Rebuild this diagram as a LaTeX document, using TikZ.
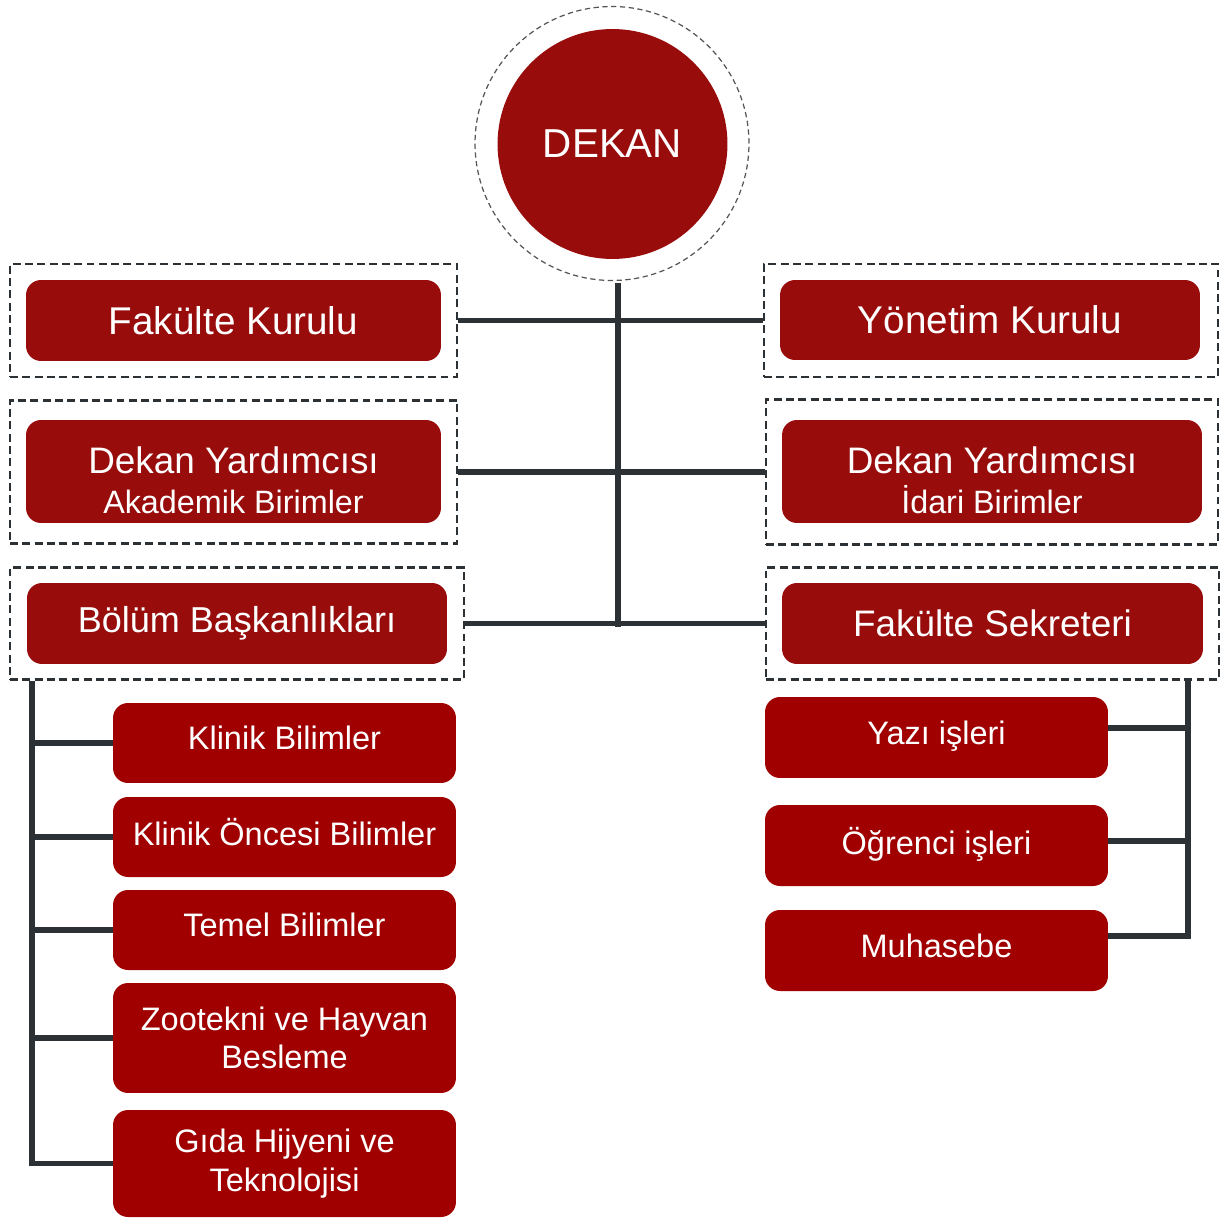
\documentclass[tikz,border=0pt]{standalone}
\usepackage{fontspec}
\setmainfont{Liberation Sans}
\definecolor{topred}{HTML}{980C0C}
\definecolor{subred}{HTML}{A00000}
\definecolor{linec}{HTML}{2B3135}
\definecolor{ringc}{HTML}{555555}
\begin{document}
\begin{tikzpicture}[x=0.02cm,y=-0.02cm,
  redbox/.style={fill=topred, rounded corners=0.3cm, text=white, align=center, inner sep=0pt},
  subbox/.style={fill=subred, rounded corners=0.3cm, text=white, align=center, inner sep=0pt,
    minimum width=6.86cm, font=\fontsize{18.5}{22}\selectfont},
  oneline/.style={text depth=5.6pt},
  frame/.style={draw=linec, dash pattern=on 4.5pt off 2.5pt, line width=1.6pt, inner sep=0pt},
  conn/.style={draw=linec, line width=3pt}]
\useasboundingbox (0,0) rectangle (1224,1220);

% Dean
\node[circle, draw=ringc, dash pattern=on 3pt off 2pt, line width=0.7pt, minimum size=5.48cm, inner sep=0pt] (ring) at (612,143.5) {};
\node[circle, fill=topred, minimum size=4.6cm, inner sep=0pt, text=white, font=\fontsize{23}{27}\selectfont] (dekan) at (612.5,144) {DEKAN};

% dashed frames
\node[frame, minimum width=8.94cm, minimum height=2.26cm] (fkF) at (233.5,320.5) {};
\node[frame, minimum width=8.94cm, minimum height=2.86cm] (dyAF) at (233.5,472) {};
\node[frame, minimum width=9.08cm, minimum height=2.24cm] (bbF) at (237,623.5) {};
\node[frame, minimum width=9.08cm, minimum height=2.26cm] (ykF) at (991,320.5) {};
\node[frame, minimum width=9.04cm, minimum height=2.9cm] (dyIF) at (992,472) {};
\node[frame, minimum width=9.06cm, minimum height=2.24cm] (fsF) at (992.5,623.5) {};

% main boxes
\node[redbox, minimum width=8.3cm, minimum height=1.62cm, font=\fontsize{22}{26}\selectfont] (fk) at (233.5,320.5) {Fakülte Kurulu};
\node[redbox, minimum width=8.3cm, minimum height=2.06cm, text height=48pt, font=\fontsize{21}{22.7}\selectfont] (dyA) at (233.5,471.5)
  {Dekan Yardımcısı\\{\fontsize{18.4}{22.7}\selectfont Akademik Birimler}};
\node[redbox, minimum width=8.4cm, minimum height=1.62cm, font=\fontsize{20.5}{24}\selectfont] (bb) at (237,623.5) {Bölüm Başkanlıkları};
\node[redbox, minimum width=8.4cm, minimum height=1.6cm, font=\fontsize{22}{26}\selectfont] (yk) at (990,320) {Yönetim Kurulu};
\node[redbox, minimum width=8.4cm, minimum height=2.06cm, text height=48pt, font=\fontsize{21}{22.7}\selectfont] (dyI) at (992,471.5)
  {Dekan Yardımcısı\\{\fontsize{18.4}{22.7}\selectfont İdari Birimler}};
\node[redbox, minimum width=8.42cm, minimum height=1.62cm, font=\fontsize{21}{25}\selectfont] (fs) at (992.5,623.5) {Fakülte Sekreteri};

% left sub units
\node[subbox, oneline, minimum height=1.6cm] (kb) at (284.5,743) {Klinik Bilimler};
\node[subbox, oneline, minimum height=1.6cm] (ko) at (284.5,837) {Klinik Öncesi Bilimler};
\node[subbox, oneline, minimum height=1.6cm] (tb) at (284.5,930) {Temel Bilimler};
\node[subbox, minimum height=2.2cm] (zh) at (284.5,1038) {Zootekni ve Hayvan\\Besleme};
\node[subbox, minimum height=2.14cm] (gh) at (284.5,1163.5) {Gıda Hijyeni ve\\Teknolojisi};

% right sub units
\node[subbox, oneline, minimum height=1.62cm] (yi) at (936.5,737.5) {Yazı işleri};
\node[subbox, oneline, minimum height=1.62cm] (oi) at (936.5,845.5) {Öğrenci işleri};
\node[subbox, oneline, minimum height=1.62cm] (mu) at (936.5,950.5) {Muhasebe};

% trunk and branches
\coordinate (trunkTop) at (618,283);
\coordinate (trunkBot) at (618,627);
\draw[conn] (trunkTop) -- (trunkBot);
\draw[conn] (fkF.east) -- (ykF.west);
\draw[conn] (dyAF.east) -- (dyIF.west);
\draw[conn] (bbF.east) -- (fsF.west);

% left bus
\coordinate (lbus) at (32,0);
\draw[conn] (bbF.south -| lbus) -- (lbus |- gh.west) -- (gh.west);
\foreach \n in {kb,ko,tb,zh} \draw[conn] (lbus |- \n.west) -- (\n.west);

% right bus
\coordinate (rbus) at (1188,0);
\coordinate (yiC) at ([yshift=0.19cm]yi.east);
\coordinate (oiC) at ([yshift=0.09cm]oi.east);
\coordinate (muC) at ([yshift=0.29cm]mu.east);
\draw[conn] (fsF.south -| rbus) -- (rbus |- muC) -- (muC);
\draw[conn] (yiC) -- (rbus |- yiC);
\draw[conn] (oiC) -- (rbus |- oiC);
\end{tikzpicture}
\end{document}
